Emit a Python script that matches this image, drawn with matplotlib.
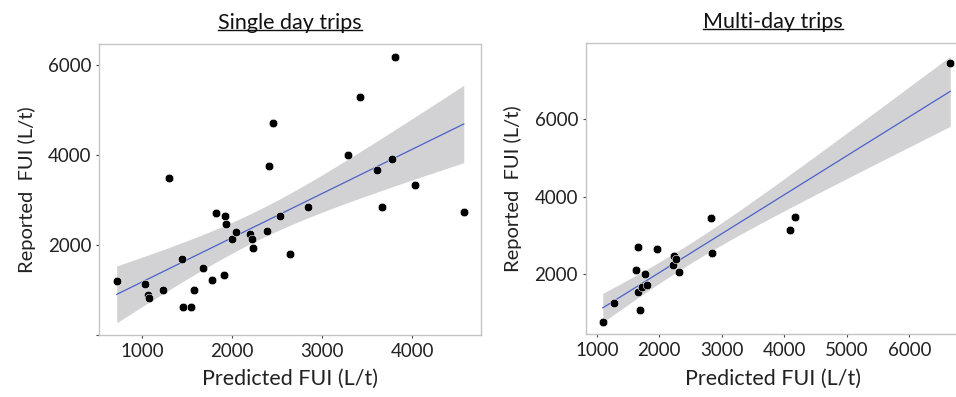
import math
import matplotlib
matplotlib.use("Agg")
import matplotlib.pyplot as plt
import numpy as np
from matplotlib.lines import Line2D

plt.rcParams['font.family'] = ['Lato', 'DejaVu Sans']

# Single day trips: predicted vs reported FUI (L/t)
single_pred = [719, 1030, 1065, 1075, 1230, 1300, 1441, 1452, 1548, 1581,
               1678, 1781, 1826, 1915, 1922, 1937, 2004, 2041, 2204, 2226,
               2233, 2385, 2407, 2452, 2537, 2641, 2848, 3285, 3418, 3607,
               3670, 3774, 3815, 4037, 4574]
single_rep = [1207, 1126, 880, 820, 993, 3496, 1689, 630, 630, 993,
              1496, 1230, 2704, 1333, 2652, 2459, 2141, 2281, 2252, 2141,
              1926, 2304, 3756, 4711, 2652, 1800, 2852, 3993, 5289, 3674,
              2852, 3904, 6185, 3333, 2726]

# Multi-day trips
multi_pred = [1096, 1283, 1621, 1664, 1664, 1686, 1728, 1772, 1804, 1959,
              2222, 2238, 2270, 2318, 2827, 2849, 4087, 4168, 6654]
multi_rep = [766, 1241, 2102, 2689, 1533, 1060, 1655, 1999, 1723, 2646,
             2224, 2456, 2396, 2059, 3439, 2542, 3137, 3465, 7463]


def t_quantile(p, df):
    # two sided critical t value by bisection on numerically integrated pdf
    c = math.gamma((df + 1) / 2) / (math.sqrt(df * math.pi) * math.gamma(df / 2))

    def cdf(t):
        xs = np.linspace(0, t, 2001)
        ys = c * (1 + xs**2 / df) ** (-(df + 1) / 2)
        return 0.5 + np.trapezoid(ys, xs)

    lo, hi = 0.0, 10.0
    for _ in range(60):
        mid = (lo + hi) / 2
        if cdf(mid) < p:
            lo = mid
        else:
            hi = mid
    return (lo + hi) / 2


def reg_panel(ax, x, y, xlim, ylim, xticks, yticks, yticklabels, title):
    x = np.asarray(x, float)
    y = np.asarray(y, float)
    n = len(x)
    b, a = np.polyfit(x, y, 1)
    grid = np.linspace(x.min(), x.max(), 100)
    fit = a + b * grid
    resid = y - (a + b * x)
    s = np.sqrt(np.sum(resid**2) / (n - 2))
    sxx = np.sum((x - x.mean())**2)
    se = s * np.sqrt(1 / n + (grid - x.mean())**2 / sxx)
    t = t_quantile(0.975, n - 2)

    ax.fill_between(grid, fit - t * se, fit + t * se, color='#d2d2d4', lw=0, zorder=1)
    ax.plot(grid, fit, color='#4a62c8', lw=0.9, zorder=2)
    ax.scatter(x, y, s=38, color='black', edgecolors='white', linewidths=0.4, zorder=3)

    ax.set_xlim(xlim)
    ax.set_ylim(ylim)
    ax.set_xticks(xticks)
    ax.set_yticks(yticks)
    ax.set_yticklabels(yticklabels)
    for sp in ax.spines.values():
        sp.set_color('#c4c4c4')
        sp.set_linewidth(1.0)
    ax.tick_params(length=2.5, width=0.8, color='#444444', labelsize=13.5,
                   labelcolor='#222222', pad=3)
    ax.set_xlabel('Predicted FUI (L/t)', fontsize=15.5, color='#222222', labelpad=7)
    ax.set_ylabel('Reported  FUI (L/t)', fontsize=14.5, color='#222222', labelpad=9)
    ax.set_title(title, fontsize=15.5, color='#111111', pad=11)


fig = plt.figure(figsize=(9.56, 3.97), dpi=100)
ax1 = fig.add_axes([0.1039, 0.1562, 0.399, 0.733])
ax2 = fig.add_axes([0.6127, 0.158, 0.3915, 0.734])

reg_panel(ax1, single_pred, single_rep, (526, 4763), (0, 6467),
          [1000, 2000, 3000, 4000], [0, 2000, 4000, 6000],
          ['', '2000', '4000', '6000'], 'Single day trips')
reg_panel(ax2, multi_pred, multi_rep, (823, 6810), (440, 7972),
          [1000, 2000, 3000, 4000, 5000, 6000], [2000, 4000, 6000],
          ['2000', '4000', '6000'], 'Multi-day trips')

# underline the titles
fig.canvas.draw()
r = fig.canvas.get_renderer()
for ax in (ax1, ax2):
    bb = ax.title.get_window_extent(r)
    inv = fig.transFigure.inverted()
    (x0, y0), (x1, y1) = inv.transform([(bb.x0, bb.y0), (bb.x1, bb.y1)])
    yl = y0 + 0.006
    fig.add_artist(Line2D([x0, x1], [yl, yl], color='#111111', lw=1.0))

fig.savefig('out.png', dpi=100)
